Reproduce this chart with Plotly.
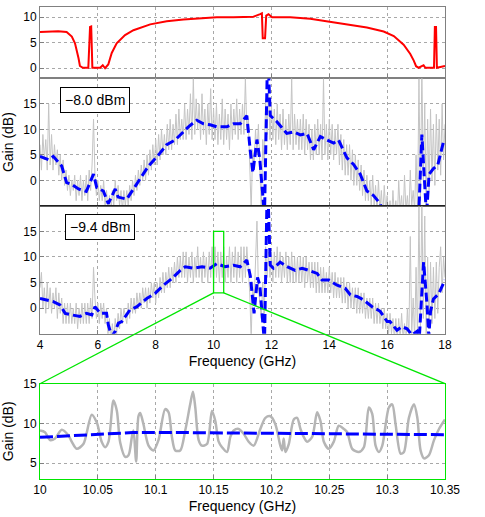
import numpy as np
import plotly.graph_objects as go

# ---- data ----
# top panel: pump / reference gain (red)
red_freq = [4.0, 4.63, 4.92, 5.1, 5.21, 5.27, 5.33, 5.38, 5.48, 5.67,
            5.73, 5.77, 5.81, 6.08, 6.17, 6.25, 6.36, 6.48, 6.65, 6.94,
            7.23, 7.81, 8.38, 8.96, 9.54, 10.11, 10.69, 11.38, 11.61, 11.67,
            11.7, 11.78, 11.82, 11.9, 12.02, 12.65, 13.34, 14.03, 14.73, 15.3,
            15.88, 16.23, 16.57, 16.8, 16.92, 17.0, 17.09, 17.2, 17.26, 17.32,
            17.62, 17.65, 17.69, 17.72, 18.0]
red_gain = [7.1, 7.25, 7.1, 6.2, 4.9, 3.6, 2.0, 0.45, 0.1, 0.1,
            8.1, 8.2, 0.1, 0.1, 0.6, 0.0, 0.75, 3.0, 4.9, 6.5,
            7.45, 8.6, 9.2, 9.55, 9.8, 10.0, 10.0, 10.1, 10.6, 10.75,
            5.9, 5.9, 10.3, 10.6, 10.0, 10.0, 9.7, 9.1, 8.6, 8.0,
            7.2, 6.3, 4.6, 2.8, 1.5, 0.4, 0.1, 0.5, 0.6, 0.1,
            0.1, 8.1, 8.1, 0.1, 0.45]

# measured gain, sampled every 0.05 GHz (grey)
meas_freq = np.round(np.arange(4.0, 18.0001, 0.05), 2)
gain_m80 = [
    7, 2, 9, 4, 8, 2, 15, 3, 9, 2, 7, 3, 6, 1, 5, 0, 4, -1, 2, -2,
    1, -3, 0, -2, 1, -4, 0, -3, 1, -4, 0, -3, 1, -4, 2, -2, 3, 12, 1, -3,
    0, -4, -1, -4, 0, -5, -2, -6, -3, -7, -2, -5, 0, -4, -1, -5, -2, -6, -2, -5,
    -2, -5, -1, -4, 0, -3, 1, -2, 2, -1, 3, 0, 4, 0, 5, 1, 6, 2, 7, 3,
    8, 3, 9, 4, 10, 5, 9, 5, 11, 6, 12, 6, 11, 7, 13, 7, 14, 8, 12, 8,
    15, 8, 14, 9, 17, 8, 20, 9, 16, 10, 15, 8, 17, 9, 14, 7, 15, 9, 18, 8,
    14, 8, 15, 7, 13, 8, 16, 7, 14, 8, 13, 6, 15, 8, 14, 9, 16, 8, 14, 9,
    15, 9, 20, 10, 12, 4, -6, 6, 3, 10, 5, 11, 2, -6, 8, 3, 16, 9, 18, 8,
    15, 8, 14, 7, 15, 8, 13, 6, 14, 7, 12, 6, 13, 7, 20, 6, 13, 7, 12, 6,
    12, 6, 13, 5, 12, 6, 11, 4, 10, 4, 11, 5, 12, 5, 11, 4, 20, 5, 11, 4,
    12, 5, 11, 4, 10, 5, 11, 3, 9, 2, 8, 1, 7, 1, 7, 0, 6, -1, 5, -1,
    4, -2, 3, -3, 2, -4, 1, -4, 0, -5, 1, -5, -1, -6, 0, -6, -2, -7, -1, -6,
    -3, -7, -4, -8, -2, -7, -4, -8, 0, -6, -3, -8, 1, -6, -3, -7, 2, -5, -2, -6,
    5, -6, 20, -4, 22, 0, 15, -6, 12, -2, 14, 0, 11, -1, 13, 2, 12, 1, 15, 4,
    11]
gain_m94 = [
    4, 7, 0, 4, -1, 5, 0, 4, -1, 3, 0, 4, -2, 3, -1, 2, -3, 1, -3, 1,
    -3, 1, -3, 0, -3, 1, -4, 0, -3, 1, -3, 1, -3, 1, -3, 2, -2, 8, 2, -2,
    1, -3, 1, -2, 1, -3, 0, -5, -2, -7, -3, -6, -2, -5, -1, -4, 0, -3, 0, -2,
    -3, 1, -2, 2, -1, 2, -1, 3, 0, 3, 0, 4, 1, 4, 0, 4, 1, 5, 2, 5,
    1, 5, 2, 6, 3, 7, 3, 7, 4, 8, 4, 8, 5, 9, 5, 10, 6, 10, 6, 11,
    6, 11, 5, 10, 6, 11, 5, 10, 6, 12, 6, 10, 5, 11, 6, 10, 5, 11, 6, 12,
    5, 12, 6, 11, 5, 11, 6, 12, 5, 10, 6, 12, 5, 11, 6, 12, 5, 11, 6, 12,
    5, 12, 6, 12, 7, 3, -6, 5, 1, 8, 17, 4, 1, -2, 5, -3, 12, 6, 11, 6,
    11, 5, 11, 6, 12, 6, 11, 5, 10, 6, 11, 5, 10, 5, 11, 5, 10, 5, 10, 5,
    10, 5, 10, 4, 10, 5, 9, 4, 9, 4, 9, 3, 9, 3, 8, 3, 8, 3, 7, 3,
    8, 3, 7, 2, 7, 2, 6, 2, 6, 1, 6, 1, 5, 0, 5, 0, 4, 0, 4, -1,
    4, -1, 3, -1, 3, -2, 2, -2, 2, -2, 2, -3, 1, -3, 1, -3, 0, -4, 0, -4,
    -1, -5, -1, -5, -2, -6, -2, -6, -2, -6, -1, -6, -3, -7, 0, -6, 14, -5, 2, -6,
    8, -6, 20, -5, 22, -2, 18, -6, 10, -4, 9, -3, 8, -2, 9, -1, 8, 12, 3, 10,
    6]

# model gain (blue dashed), -8.0 dBm
model_m80_freq = [4.0, 4.29, 4.46, 4.75, 4.92, 5.1, 5.33, 5.6, 5.85, 5.96,
                  6.19, 6.36, 6.6, 6.7, 7.0, 7.23, 7.58, 7.75, 8.1, 8.38,
                  8.67, 8.9, 9.13, 9.42, 9.65, 9.88, 10.11, 10.46, 10.69, 10.92,
                  11.15, 11.27, 11.36, 11.5, 11.6, 11.76, 11.87, 11.96, 12.19, 12.53,
                  12.77, 13.0, 13.23, 13.46, 13.69, 13.92, 14.15, 14.32, 14.61, 14.84,
                  15.07, 15.3, 15.53, 15.76, 15.9, 17.0, 17.09, 17.2, 17.36, 17.45,
                  17.6, 17.75, 17.95, 18.0]
model_m80_gain = [4.7, 4.05, 4.7, 2.8, -0.45, -0.8, -1.7, -2.2, 1.2, -1.4,
                  -2.1, -4.6, -1.7, -3.3, -3.7, -1.7, 1.2, 2.8, 5.0, 7.0,
                  7.9, 9.2, 10.5, 11.8, 11.1, 10.9, 10.5, 10.5, 11.1, 11.1,
                  12.7, 5.7, 1.5, 8.0, 4.0, -7.0, 26.0, 12.7, 11.5, 9.2,
                  9.5, 8.9, 9.2, 6.0, 8.6, 7.9, 7.3, 7.9, 4.4, 3.1,
                  1.2, -2.1, -3.0, -4.6, -8.0, -8.0, -7.0, 9.0, -7.0, 1.2,
                  2.3, 3.0, 7.6, 8.0]

# model gain (blue dashed), -9.4 dBm
model_m94_freq = [4.0, 4.29, 4.46, 4.69, 4.87, 5.1, 5.38, 5.61, 5.79, 5.9,
                  6.08, 6.3, 6.36, 6.48, 6.6, 6.71, 6.83, 7.11, 7.35, 7.69,
                  7.98, 8.27, 8.56, 8.85, 9.02, 9.31, 9.6, 9.88, 10.11, 10.4,
                  10.69, 10.92, 11.15, 11.27, 11.4, 11.52, 11.6, 11.76, 11.86, 11.96,
                  12.07, 12.3, 12.54, 12.82, 13.06, 13.29, 13.58, 13.75, 13.98, 14.27,
                  14.55, 14.73, 14.96, 15.19, 15.48, 15.76, 16.0, 16.1, 16.34, 16.51,
                  16.69, 16.86, 17.03, 17.1, 17.21, 17.26, 17.38, 17.44, 17.5, 17.6,
                  17.78, 17.95, 18.0]
model_m94_gain = [1.9, 1.6, 1.3, 0.65, -1.0, -1.3, -1.6, -1.0, -1.3, 0.3,
                  -1.0, -1.0, -3.2, -5.5, -4.5, -2.9, -2.6, -0.3, 0.3, 1.9,
                  2.9, 4.5, 5.8, 7.4, 8.1, 7.8, 8.1, 7.8, 8.7, 8.1,
                  8.4, 8.1, 9.4, 6.3, -1.0, 6.0, 4.5, -7.0, 26.0, 8.4,
                  7.8, 9.0, 8.1, 7.4, 7.8, 7.4, 6.8, 5.5, 5.5, 4.5,
                  3.9, 2.6, 2.3, 1.6, 0.3, -0.6, -2.6, -2.6, -4.3, -3.6,
                  -4.0, -5.2, -4.5, -7.0, 5.8, 9.0, 0.6, -5.5, -0.6, 1.8,
                  2.8, 5.0, 5.5]

# zoomed window 10 - 10.35 GHz
zoom_freq = [10.0, 10.0043, 10.0087, 10.013, 10.0188, 10.0245, 10.0274, 10.0317, 10.0375, 10.0447,
             10.0491, 10.0534, 10.0563, 10.0592, 10.0635, 10.0664, 10.0693, 10.0736, 10.0765, 10.0794,
             10.0808, 10.0831, 10.0851, 10.0866, 10.0894, 10.0938, 10.0981, 10.1024, 10.1082, 10.1111,
             10.114, 10.1169, 10.1212, 10.1255, 10.1298, 10.1322, 10.1342, 10.1371, 10.1399, 10.1443,
             10.1486, 10.1515, 10.1544, 10.1573, 10.1616, 10.1645, 10.1674, 10.1717, 10.176, 10.1803,
             10.1847, 10.1904, 10.1948, 10.1991, 10.2034, 10.2077, 10.2092, 10.2106, 10.2121, 10.215,
             10.2193, 10.2222, 10.2251, 10.2279, 10.2308, 10.2352, 10.2395, 10.2424, 10.2453, 10.2496,
             10.2539, 10.2582, 10.2626, 10.2655, 10.2698, 10.2756, 10.2799, 10.2842, 10.2871, 10.29,
             10.2929, 10.2958, 10.3015, 10.3044, 10.3073, 10.3116, 10.3145, 10.3188, 10.3232, 10.3261,
             10.3289, 10.3318, 10.3361, 10.3405, 10.3448, 10.35]
zoom_gain = [9.1, 8.9, 7.9, 8.1, 9.2, 8.5, 7.7, 6.8, 7.4, 11.1,
             10.1, 7.65, 7.0, 7.7, 12.9, 11.6, 7.6, 5.8, 6.0, 8.3,
             9.1, 5.2, 10.9, 11.3, 9.9, 7.2, 6.6, 7.9, 11.8, 11.4,
             8.3, 6.6, 6.6, 9.1, 12.4, 14.0, 12.0, 7.9, 7.2, 7.4,
             11.6, 10.3, 7.7, 7.0, 6.4, 8.3, 9.1, 9.3, 8.7, 7.7,
             7.2, 9.3, 10.7, 10.9, 9.9, 7.2, 6.6, 8.1, 6.4, 7.4,
             10.5, 10.7, 9.3, 8.3, 7.7, 8.3, 11.4, 10.3, 7.7, 6.8,
             7.7, 9.7, 9.3, 8.9, 6.8, 6.4, 7.0, 12.0, 11.2, 7.2,
             6.4, 7.2, 12.0, 12.4, 9.9, 6.2, 6.4, 10.7, 12.4, 10.7,
             6.6, 5.6, 6.0, 7.9, 9.3, 10.5]
zoom_model_freq = [10.0, 10.05, 10.08, 10.12, 10.17, 10.25, 10.3, 10.35]
zoom_model_gain = [8.25, 8.6, 8.85, 8.85, 8.8, 8.7, 8.6, 8.58]

freq_ticks = [4, 6, 8, 10, 12, 14, 16, 18]
zoom_ticks = [10, 10.05, 10.1, 10.15, 10.2, 10.25, 10.3, 10.35]
zoom_ticktext = ['10', '10.05', '10.1', '10.15', '10.2', '10.25', '10.3', '10.35']
zoom_window = (10.0, 10.35, 3, 15)

assert len(gain_m80) == len(meas_freq) and len(gain_m94) == len(meas_freq)

# ---- layout geometry ----
dom1 = [0.8486, 1.0]
dom2 = [0.5789, 0.8486]
dom3 = [0.3075, 0.5789]
dom4 = [0.0, 0.2019]
rng_f = [4, 18]
rng3 = [-5, 20]

GREEN = '#00e600'
GREY = '#c4c4c4'
BLUE = '#0000ff'
FRAME = '#808080'
FONT = 'Liberation Sans, Arial, sans-serif'


def to_paper(v, dom, rng):
    return dom[0] + (v - rng[0]) / (rng[1] - rng[0]) * (dom[1] - dom[0])


fig = go.Figure()

fig.add_trace(go.Scatter(x=red_freq, y=red_gain, mode='lines',
                         line=dict(color='#ff0000', width=2), xaxis='x', yaxis='y'))

for gain, model_f, model_g, ax in [(gain_m80, model_m80_freq, model_m80_gain, '2'),
                                   (gain_m94, model_m94_freq, model_m94_gain, '3')]:
    fig.add_trace(go.Scatter(x=meas_freq, y=gain, mode='lines',
                             line=dict(color=GREY, width=1), xaxis='x' + ax, yaxis='y' + ax))
    fig.add_trace(go.Scatter(x=model_f, y=model_g, mode='lines',
                             line=dict(color=BLUE, width=3, dash='9px,4px'),
                             xaxis='x' + ax, yaxis='y' + ax))

fig.add_trace(go.Scatter(x=zoom_freq, y=zoom_gain, mode='lines',
                         line=dict(color='#b5b5b5', width=2.5, shape='spline', smoothing=0.8),
                         xaxis='x4', yaxis='y4'))
fig.add_trace(go.Scatter(x=zoom_model_freq, y=zoom_model_gain, mode='lines',
                         line=dict(color=BLUE, width=3, dash='13px,4px'),
                         xaxis='x4', yaxis='y4'))

axis_common = dict(ticks='inside', ticklen=4, tickcolor=FRAME, showgrid=True,
                   gridcolor='#a8a8a8', griddash='dot', gridwidth=1, showline=True,
                   linecolor=FRAME, linewidth=1, mirror=True, zeroline=False,
                   tickfont=dict(size=12, color='black', family=FONT))
title_font = dict(size=14, color='black', family=FONT)

fig.update_layout(
    width=485, height=517,
    margin=dict(l=40, r=40, t=0, b=38),
    paper_bgcolor='white', plot_bgcolor='white',
    showlegend=False, hovermode=False,
    font=dict(family=FONT, color='black'),
    xaxis=dict(axis_common, domain=[0, 1], range=rng_f, tickvals=freq_ticks,
               showticklabels=False, anchor='y'),
    yaxis=dict(axis_common, domain=dom1, range=[-2, 12], tickvals=[0, 5, 10], anchor='x'),
    xaxis2=dict(axis_common, domain=[0, 1], range=rng_f, tickvals=freq_ticks,
                showticklabels=False, anchor='y2'),
    yaxis2=dict(axis_common, domain=dom2, range=[-5, 20], tickvals=[0, 5, 10, 15], anchor='x2',
                title=dict(text='Gain (dB)', font=title_font, standoff=8)),
    xaxis3=dict(axis_common, domain=[0, 1], range=rng_f, tickvals=freq_ticks, anchor='y3',
                title=dict(text='Frequency (GHz)', font=title_font, standoff=4)),
    yaxis3=dict(axis_common, domain=dom3, range=rng3, tickvals=[0, 5, 10, 15], anchor='x3'),
    xaxis4=dict(axis_common, domain=[0, 1], range=[10, 10.35], tickvals=zoom_ticks,
                ticktext=zoom_ticktext, anchor='y4', linecolor=GREEN,
                title=dict(text='Frequency (GHz)', font=title_font, standoff=4)),
    yaxis4=dict(axis_common, domain=dom4, range=[3, 15], tickvals=[5, 10, 15], anchor='x4',
                linecolor=GREEN, title=dict(text='Gain (dB)', font=title_font, standoff=8)),
)

box = dict(showarrow=False, bordercolor='black', borderwidth=1, borderpad=4,
           bgcolor='white', xanchor='center', yanchor='middle',
           font=dict(size=14, color='black', family=FONT))
fig.add_annotation(box, text='\u22128.0 dBm', xref='x2 domain', yref='y2 domain', x=0.137, y=0.829)
fig.add_annotation(box, text='\u22129.4 dBm', xref='x3 domain', yref='y3 domain', x=0.147, y=0.838)

# zoom window in the -9.4 dBm panel and the lines that lead to the close-up
f0, f1, g0, g1 = zoom_window
fig.add_shape(type='rect', xref='x3', yref='y3', x0=f0, x1=f1, y0=g0, y1=g1,
              line=dict(color=GREEN, width=1.3))
y_low = to_paper(g0, dom3, rng3)
for fx, corner in [(f0, 0.0), (f1, 1.0)]:
    fig.add_shape(type='line', xref='paper', yref='paper',
                  x0=to_paper(fx, [0, 1], rng_f), y0=y_low, x1=corner, y1=dom4[1],
                  line=dict(color=GREEN, width=1.3))

# dark line between the two measurement panels
fig.add_shape(type='line', xref='paper', yref='paper', x0=0, x1=1, y0=dom2[0], y1=dom2[0],
              line=dict(color='black', width=1))

# drop the default page margin so the figure sits at the window's top-left corner
fig.write_html("out.html", config={'displayModeBar': False},
               post_script="document.body.style.margin='0px';")
